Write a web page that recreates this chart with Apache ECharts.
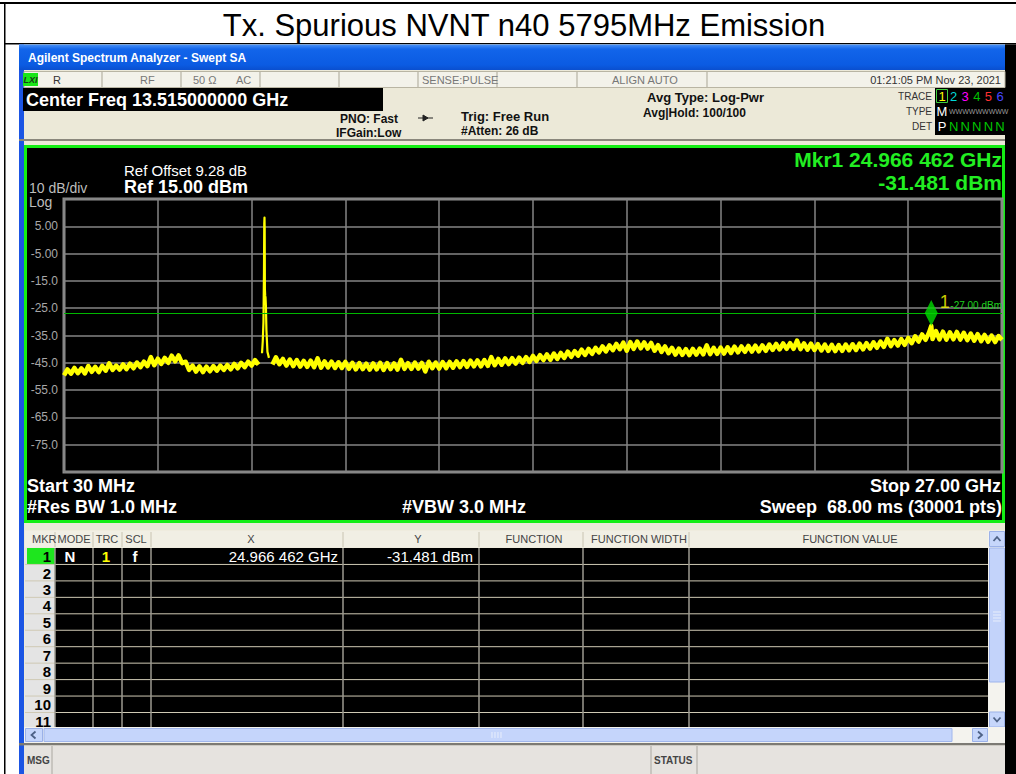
<!DOCTYPE html>
<html>
<head>
<meta charset="utf-8">
<title>Tx. Spurious NVNT n40 5795MHz Emission</title>
<script src="https://cdn.jsdelivr.net/npm/echarts@6.0.0/dist/echarts.min.js"></script>
<style>
  html, body { margin: 0; padding: 0; background: #ffffff; }
  #chart { width: 1016px; height: 774px; }
</style>
</head>
<body>
<div id="chart"></div>
<script>
// ---- Sweep settings ----
const sweepStartGHz = 0.03;
const sweepStopGHz = 27.0;
const refLevelDbm = 15;
const dbPerDiv = 10;
const divisions = 10;

// ---- Trace 1 (average, log-power), evenly spaced over the sweep ----
const traceDbm = [
  -49.6, -47.4, -49.0, -46.9, -48.8, -47.0, -48.9, -46.2, -48.3, -46.5,
  -48.4, -46.1, -47.9, -45.2, -47.6, -46.0, -47.5, -45.6, -47.3, -45.3,
  -47.0, -44.9, -46.6, -44.6, -46.2, -42.9, -45.9, -43.5, -45.4, -43.2,
  -45.0, -42.4, -44.5, -42.3, -45.1, -44.6, -47.6, -46.0, -48.2, -46.3,
  -48.4, -46.4, -48.1, -46.2, -47.9, -46.0, -47.6, -45.8, -47.4, -45.4,
  -47.0, -45.0, -46.6, -44.6, -46.0, -44.0, -45.7, -41.5, -21.0, -43.2,
  -45.6, -43.0, -45.5, -43.6, -46.0, -43.8, -46.2, -44.0, -46.4, -44.3,
  -46.5, -44.2, -46.6, -43.4, -46.8, -44.5, -46.7, -44.6, -46.9, -44.8,
  -46.9, -44.7, -47.2, -45.0, -47.4, -45.1, -47.3, -45.3, -47.5, -45.2,
  -47.4, -45.0, -47.6, -45.1, -47.3, -45.2, -47.5, -43.9, -47.2, -45.1,
  -47.2, -44.9, -47.1, -45.0, -48.2, -44.6, -47.0, -44.9, -47.1, -44.7,
  -47.0, -44.7, -46.8, -44.5, -46.6, -44.4, -46.5, -44.2, -46.3, -44.1,
  -46.3, -44.0, -46.1, -42.9, -45.9, -43.6, -45.7, -43.4, -45.5, -43.3,
  -45.3, -43.1, -45.0, -42.9, -44.7, -42.5, -44.3, -42.2, -44.0, -41.9,
  -43.9, -41.6, -43.6, -41.4, -43.2, -40.9, -42.8, -40.7, -42.4, -40.2,
  -42.1, -39.9, -41.7, -39.5, -41.2, -39.0, -40.8, -38.6, -40.4, -38.1,
  -40.0, -37.6, -40.6, -37.4, -39.9, -37.2, -39.7, -37.5, -39.8, -37.7,
  -40.6, -38.5, -41.0, -39.0, -41.5, -39.5, -42.0, -39.8, -42.1, -40.0,
  -42.2, -39.9, -42.0, -39.8, -41.9, -38.6, -41.8, -39.5, -41.7, -39.4,
  -41.6, -39.3, -41.4, -39.1, -41.2, -39.0, -41.0, -38.8, -40.9, -38.7,
  -40.8, -38.6, -40.6, -38.3, -40.3, -38.1, -40.1, -37.9, -39.9, -37.8,
  -39.9, -36.9, -40.0, -37.9, -40.2, -38.0, -40.3, -38.2, -40.5, -38.3,
  -40.6, -38.4, -40.7, -38.5, -40.6, -38.3, -40.4, -38.2, -40.3, -38.0,
  -40.1, -37.8, -39.8, -37.5, -39.5, -37.2, -39.2, -36.2, -38.9, -36.7,
  -38.7, -36.3, -38.4, -35.9, -37.8, -35.3, -37.2, -34.6, -36.6, -33.9,
  -36.3, -33.4, -36.4, -33.6, -36.5, -33.8, -36.4, -33.7, -36.5, -34.0,
  -36.7, -34.3, -36.9, -34.5, -37.1, -34.8, -37.3, -35.0, -37.4, -35.2, -36.6
];

// ---- Fine detail around the 5795 MHz carrier ----
const carrierGHz = [5.745, 5.765, 5.780, 5.788, 5.795, 5.800, 5.806, 5.815, 5.835, 5.850, 5.880];
const carrierDbm = [-37.0, -30.0, -12.0, 6.0, 8.2, 4.0, -18.0, -20.5, -24.0, -33.0, -41.0];

// ---- Marker 1 and display line ----
const markerGHz = [24.966462];
const markerDbm = [-31.481];
const displayLineDbm = [-27.0];

// ---- Build the trace points on the frequency axis ----
const step = (sweepStopGHz - sweepStartGHz) / (traceDbm.length - 1);
const tracePoints = traceDbm.map((v, i) => [sweepStartGHz + i * step, v])
  .concat(carrierGHz.map((f, i) => [f, carrierDbm[i]]))
  .concat(markerGHz.map((f, i) => [f, markerDbm[i]]))
  .sort((a, b) => a[0] - b[0]);

// The noise floor is drawn as a heavy stroke; the narrow carrier spike as a fine one.
const spikeLo = 5.72, spikeHi = 5.93;
const floorLeft = tracePoints.filter(p => p[0] <= spikeLo);
const spikePart = tracePoints.filter(p => p[0] >= spikeLo && p[0] <= spikeHi);
const floorRight = tracePoints.filter(p => p[0] >= spikeHi);

const yMin = refLevelDbm - dbPerDiv * divisions;
const mkrFreqTxt = (() => { const s = markerGHz[0].toFixed(6); return s.slice(0, -3) + ' ' + s.slice(-3) + ' GHz'; })();
const mkrAmpTxt = markerDbm[0].toFixed(3) + ' dBm';

// ---- Window chrome helpers ----
const FONT = '"Liberation Sans", Arial, sans-serif';
const fnt = (size, weight) => (weight || 'normal') + ' ' + size + 'px ' + FONT;
const els = [];
function rect(x, y, w, h, fill, stroke, lw, z) {
  els.push({ type: 'rect', silent: true, z: z == null ? -6 : z,
    shape: { x: x, y: y, width: w, height: h },
    style: { fill: fill, stroke: stroke || null, lineWidth: lw || 0 } });
}
function line(x1, y1, x2, y2, color, lw, z) {
  els.push({ type: 'line', silent: true, z: z == null ? -4 : z,
    shape: { x1: x1, y1: y1, x2: x2, y2: y2 },
    style: { stroke: color, lineWidth: lw || 1 } });
}
function poly(points, color, lw, fill, z) {
  els.push({ type: fill ? 'polygon' : 'polyline', silent: true, z: z == null ? 40 : z,
    shape: { points: points },
    style: { stroke: color, lineWidth: lw || 1, fill: fill || null } });
}
function text(x, y, str, font, fill, align, z) {
  els.push({ type: 'text', silent: true, z: z == null ? 50 : z, x: x, y: y,
    style: { text: str, font: font, fill: fill,
      textAlign: align || 'left', textVerticalAlign: 'middle',
      align: align || 'left', verticalAlign: 'middle' } });
}

// Page frame and heading
rect(0, 2, 1016, 2, '#000000');
rect(4, 2, 1.5, 772, '#000000');
rect(4, 43, 1012, 1.5, '#000000');
text(524, 25, 'Tx. Spurious NVNT n40 5795MHz Emission', fnt(31), '#000000', 'center');

// Application window
rect(19, 44.5, 986, 729.5, '#ece9d8');
rect(19, 44.5, 5, 729.5, '#1b55e4');
rect(1005, 44.5, 11, 729.5, '#000000');
rect(19, 44.5, 986, 25.5, new echarts.graphic.LinearGradient(0, 0, 0, 1, [
  { offset: 0, color: '#4a92f7' }, { offset: 0.18, color: '#1265ea' },
  { offset: 0.8, color: '#0b5be2' }, { offset: 1, color: '#0a4fcf' }]));
text(28, 57.5, 'Agilent Spectrum Analyzer - Swept SA', fnt(12, 'bold'), '#ffffff');

// Status strip
rect(24, 71.5, 981, 16, '#f3f2ea', '#b9b5a3', 1);
rect(23, 73, 15, 13, '#19e619');
text(30.5, 79.5, 'LXI', 'italic bold 9px ' + FONT, '#1a3a1a', 'center');
[102, 181, 260, 339, 418, 497, 577, 707].forEach(x => line(x, 72, x, 87, '#a9a595', 1));
text(53, 80, 'R', fnt(11), '#333333');
text(140, 80, 'RF', fnt(11), '#777777');
text(193, 80, '50 \u03A9', fnt(11), '#777777');
text(236, 80, 'AC', fnt(11), '#777777');
text(422, 80, 'SENSE:PULSE', fnt(11), '#777777');
text(612, 80, 'ALIGN AUTO', fnt(11), '#777777');
text(1001, 80, '01:21:05 PM Nov 23, 2021', fnt(11), '#333333', 'right');

// Setup readouts
rect(23, 88, 360, 23, '#000000');
text(26, 100, 'Center Freq 13.515000000 GHz', fnt(18, 'bold'), '#ffffff');
text(340, 119, 'PNO: Fast', fnt(12, 'bold'), '#111111');
text(336, 133, 'IFGain:Low', fnt(12, 'bold'), '#111111');
line(418, 118, 433, 118, '#222222', 1, 40);
poly([[423, 115], [428, 118], [423, 121]], '#222222', 1, '#222222');
text(461, 116, 'Trig: Free Run', fnt(13, 'bold'), '#111111');
text(461, 131, '#Atten: 26 dB', fnt(12, 'bold'), '#111111');
text(647, 97, 'Avg Type: Log-Pwr', fnt(13, 'bold'), '#111111');
text(643, 113, 'Avg|Hold: 100/100', fnt(12, 'bold'), '#111111');
text(932, 96, 'TRACE', fnt(10), '#333333', 'right');
text(932, 111, 'TYPE', fnt(10), '#333333', 'right');
text(932, 126, 'DET', fnt(10), '#333333', 'right');
rect(935, 88, 70, 47, '#000000');
rect(936.5, 89.5, 11, 13, '#000000', '#3fcf3f', 1, -3);
const traceColors = ['#ffff00', '#00d8d8', '#ff00ff', '#00c000', '#ff3030', '#4646ff'];
traceColors.forEach((c, i) => text(942 + i * 11.6, 96.5, String(i + 1), fnt(13), c, 'center'));
text(942, 111, 'M', fnt(13), '#ffffff', 'center');
text(949, 111, 'WWWWWWWWW', fnt(7), '#9a9a9a');
text(942, 126, 'P', fnt(13), '#ffffff', 'center');
[1, 2, 3, 4, 5].forEach(i => text(942 + i * 11.6, 126.5, 'N', fnt(13), '#00c800', 'center'));
rect(19, 139, 986, 2, '#8a877c');

// Plot panel
rect(25.5, 146.5, 978, 375, '#000000', '#14ee14', 3);
text(124, 170, 'Ref Offset 9.28 dB', fnt(15), '#ffffff');
text(124, 187, 'Ref ' + refLevelDbm.toFixed(2) + ' dBm', fnt(18, 'bold'), '#ffffff');
text(29, 187.5, dbPerDiv + ' dB/div', fnt(14), '#bdbdbd');
text(29, 202, 'Log', fnt(14), '#bdbdbd');
text(1002, 159.5, 'Mkr1 ' + mkrFreqTxt, fnt(21, 'bold'), '#22ee22', 'right');
text(1002, 182.5, mkrAmpTxt, fnt(21, 'bold'), '#22ee22', 'right');
text(27, 486, 'Start ' + Math.round(sweepStartGHz * 1000) + ' MHz', fnt(18, 'bold'), '#ffffff');
text(27, 507, '#Res BW 1.0 MHz', fnt(18, 'bold'), '#ffffff');
text(402, 507, '#VBW 3.0 MHz', fnt(18, 'bold'), '#ffffff');
text(1001, 486, 'Stop ' + sweepStopGHz.toFixed(2) + ' GHz', fnt(18, 'bold'), '#ffffff', 'right');
text(1002, 507, 'Sweep  68.00 ms (30001 pts)', fnt(18, 'bold'), '#ffffff', 'right');

// Marker table
const colEdges = [25, 55, 93, 122, 151, 343, 479, 583, 689, 988];
rect(25, 530.5, 963, 17, '#f1efe4');
colEdges.slice(1, -1).forEach(x => line(x, 532, x, 547, '#c9c4b2', 1));
const headY = 539;
text(32, headY, 'MKR', fnt(11), '#444444');
text(74, headY, 'MODE', fnt(11), '#444444', 'center');
text(107, headY, 'TRC', fnt(11), '#444444', 'center');
text(136, headY, 'SCL', fnt(11), '#444444', 'center');
text(251, headY, 'X', fnt(11), '#444444', 'center');
text(418, headY, 'Y', fnt(11), '#444444', 'center');
text(534, headY, 'FUNCTION', fnt(11), '#444444', 'center');
text(639, headY, 'FUNCTION WIDTH', fnt(11), '#444444', 'center');
text(850, headY, 'FUNCTION VALUE', fnt(11), '#444444', 'center');
const rowTop0 = 548, rowH = 16.45, tableBottom = 727;
rect(55, rowTop0, 933, tableBottom - rowTop0, '#000000');
rect(25, rowTop0, 30, tableBottom - rowTop0, '#e4e4e4');
rect(27, rowTop0, 28, rowH, '#1ee61e', null, 0, -5);
for (let k = 0; k < 11; k++) {
  const y = rowTop0 + k * rowH;
  if (k > 0) line(25, y, 988, y, '#cfc9b4', 1, -3);
  text(51, y + 8.6, String(k + 1), fnt(15, 'bold'), '#000000', 'right', 20);
}
colEdges.slice(1, -1).forEach(x => line(x, rowTop0, x, tableBottom, '#9d9a90', 1.5, -3));
text(70, rowTop0 + 8.6, 'N', fnt(15, 'bold'), '#ffffff', 'center');
text(106, rowTop0 + 8.6, '1', fnt(15, 'bold'), '#ffff00', 'center');
text(135, rowTop0 + 8.6, 'f', fnt(15, 'bold'), '#ffffff', 'center');
text(338, rowTop0 + 8.6, mkrFreqTxt, fnt(15), '#ffffff', 'right');
text(473, rowTop0 + 8.6, mkrAmpTxt, fnt(15), '#ffffff', 'right');

// Scroll bars
rect(988, 530.5, 17, 197, '#f4f3ee');
rect(989.5, 531.5, 15, 15, '#c6d6fb', '#9bb1e8', 1);
poly([[993.5, 541], [997, 537], [1000.5, 541]], '#4d6185', 1.8);
rect(989.5, 548, 15, 134, '#c3d3fa', '#9db4ec', 1);
[612, 615, 618, 621].forEach(y => line(993, y, 1001, y, '#e8eefc', 1, -3));
rect(989.5, 712, 15, 15, '#c6d6fb', '#9bb1e8', 1);
poly([[993.5, 717.5], [997, 721.5], [1000.5, 717.5]], '#4d6185', 1.8);
rect(24, 727, 981, 16, '#f4f3ee');
rect(25.5, 728.5, 17, 13, '#c6d6fb', '#9bb1e8', 1);
poly([[35.5, 731.5], [31.5, 735], [35.5, 738.5]], '#4d6185', 1.8);
rect(44, 728.5, 908, 13, '#c5d5fb', '#a0b6ec', 1);
[492, 495, 498, 501].forEach(x => line(x, 732, x, 738, '#e8eefc', 1, -3));
rect(972.5, 728.5, 15, 13, '#c6d6fb', '#9bb1e8', 1);
poly([[978, 731.5], [982, 735], [978, 738.5]], '#4d6185', 1.8);

// Message / status bar
rect(19, 743, 986, 2.5, '#7c7a74');
rect(24, 745.5, 981, 28.5, '#e6e3df');
[52, 651, 697].forEach(x => line(x, 746, x, 774, '#aaa7a0', 1));
text(27, 760, 'MSG', fnt(10, 'bold'), '#444444');
text(654, 760, 'STATUS', fnt(10, 'bold'), '#444444');

// ---- Chart ----
const floorStyle = { color: '#ffff00', width: 4.5, join: 'round' };
const chart = echarts.init(document.getElementById('chart'), null, { renderer: 'svg' });
chart.setOption({
  animation: false,
  backgroundColor: 'transparent',
  graphic: { elements: els },
  grid: { left: 64, top: 199, width: 938, height: 273, show: true,
          borderColor: '#8e8e8e', borderWidth: 3, backgroundColor: 'transparent' },
  xAxis: {
    type: 'value', min: sweepStartGHz, max: sweepStopGHz,
    interval: (sweepStopGHz - sweepStartGHz) / divisions,
    axisLine: { show: false }, axisTick: { show: false }, axisLabel: { show: false },
    splitLine: { show: true, lineStyle: { color: '#858585', width: 1.5 } }
  },
  yAxis: {
    type: 'value', min: yMin, max: refLevelDbm, interval: dbPerDiv,
    axisLine: { show: false }, axisTick: { show: false },
    axisLabel: {
      color: '#a8a8a8', fontSize: 12, fontFamily: FONT, margin: 6,
      formatter: v => (v === refLevelDbm || v === yMin) ? '' :
        (Math.abs(v) < 10 ? v.toFixed(2) : v.toFixed(1))
    },
    splitLine: { show: true, lineStyle: { color: '#858585', width: 1.5 } }
  },
  series: [
    {
      name: 'Trace 1', type: 'line', data: floorLeft, showSymbol: false,
      symbol: 'none', z: 3, clip: true, lineStyle: floorStyle,
      markLine: {
        silent: true, symbol: ['none', 'none'],
        lineStyle: { color: '#00b800', width: 1, type: 'solid' },
        label: { show: true, position: 'insideEndTop', distance: [0, 3],
                 formatter: () => displayLineDbm[0].toFixed(2) + ' dBm',
                 color: '#1ed01e', fontSize: 10, fontFamily: FONT },
        data: [{ yAxis: displayLineDbm[0] }]
      }
    },
    {
      name: 'Trace 1', type: 'line', data: spikePart, showSymbol: false,
      symbol: 'none', z: 3, clip: true,
      lineStyle: { color: '#ffff00', width: 2.2, join: 'round' }
    },
    {
      name: 'Trace 1', type: 'line', data: floorRight, showSymbol: false,
      symbol: 'none', z: 3, clip: true, lineStyle: floorStyle
    },
    {
      name: 'Mkr1', type: 'scatter', z: 5,
      data: markerGHz.map((f, i) => [f, markerDbm[i]]),
      symbol: 'diamond', symbolSize: [13, 26], symbolOffset: [0, -13],
      itemStyle: { color: '#00dc00' },
      label: { show: true, formatter: '1', position: 'right', distance: 2,
               offset: [0, -11], color: '#ffff00', fontSize: 18, fontFamily: FONT }
    }
  ]
});
</script>
</body>
</html>
